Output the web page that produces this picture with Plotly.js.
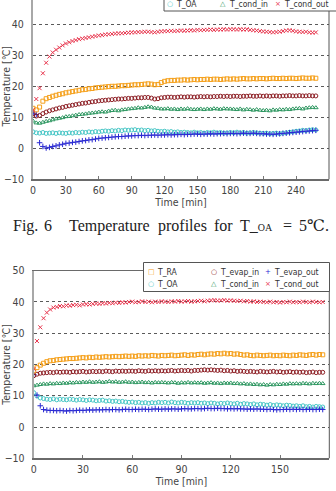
<!DOCTYPE html>
<html>
<head>
<meta charset="utf-8">
<script src="https://cdn.plot.ly/plotly-3.0.1.min.js"></script>
<style>
  html, body { margin: 0; padding: 0; overflow: hidden; background: #fff; }
  #chart { width: 336px; height: 511px; margin-top: -20px; }
</style>
</head>
<body>
<div id="chart"></div>
<script>
// ---- Fig. 6: run with outdoor air at 5 °C (logged every 3 min) ----
const TOP_T = [0,3,6,9,12,15,18,21,24,27,30,33,36,39,42,45,48,51,54,57,60,63,66,69,72,75,78,81,84,87,
  90,93,96,99,102,105,108,111,114,117,120,123,126,129,132,135,138,141,144,147,150,153,156,159,162,165,168,171,174,177,
  180,183,186,189,192,195,198,201,204,207,210,213,216,219,222,225,228,231,234,237,240,243,246,249,252,255,258];

const TOP_RA = [12.9,12.4,13.3,15.2,16.0,16.4,16.8,17.1,17.4,17.6, 17.9,18.1,18.3,18.5,18.7,18.9,19.0,19.2,19.3,19.5,
  19.6,19.7,19.8,19.9,20.0,20.0,20.1,20.2,20.2,20.3, 20.4,20.5,20.5,20.6,20.7,20.8,20.7,20.5,20.6,21.2,
  21.6,21.8,21.9,21.9,22.0,22.0,22.1,22.0,22.1,22.2, 22.1,22.2,22.2,22.3,22.2,22.3,22.3,22.2,22.3,22.4,
  22.3,22.4,22.3,22.4,22.5,22.4,22.4,22.5,22.4,22.5, 22.5,22.4,22.5,22.6,22.5,22.5,22.6,22.5,22.6,22.6,
  22.5,22.6,22.7,22.6,22.6,22.7,22.6];

const TOP_EVAP_IN = [11.1,10.4,10.6,11.2,11.7,12.1,12.4,12.7,13.0,13.2, 13.5,13.7,13.9,14.1,14.3,14.5,14.6,14.8,15.0,15.1,
  15.3,15.4,15.5,15.6,15.7,15.8,15.9,15.9,16.0,16.1, 16.1,16.2,16.3,16.3,16.4,16.4,16.2,15.9,16.0,16.3,
  16.4,16.5,16.5,16.4,16.5,16.6,16.5,16.6,16.6,16.5, 16.6,16.7,16.6,16.7,16.6,16.7,16.7,16.8,16.7,16.8,
  16.7,16.8,16.8,16.7,16.8,16.8,16.9,16.8,16.8,16.9, 16.8,16.9,16.8,16.9,16.9,16.8,16.9,16.9,17.0,16.9,
  16.9,17.0,16.9,16.9,17.0,16.9,16.9];

const TOP_EVAP_OUT = [11.3,10.9,1.8,0.6,0.1,0.3,0.6,0.8,1.1,1.3, 1.6,1.7,1.9,2.0,2.2,2.4,2.5,2.7,2.8,3.0,
  3.2,3.3,3.4,3.5,3.6,3.7,3.8,3.8,3.9,4.0, 4.0,4.1,4.1,4.2,4.1,4.2,4.2,4.3,4.2,4.3,
  4.3,4.4,4.3,4.4,4.4,4.5,4.4,4.5,4.5,4.6, 4.6,4.5,4.6,4.6,4.7,4.6,4.7,4.7,4.8,4.7,
  4.8,4.8,4.7,4.8,4.9,4.8,4.8,4.9,4.8,4.7, 4.7,4.6,4.6,4.5,4.6,4.7,4.8,4.9,5.0,5.1,
  5.2,5.3,5.4,5.5,5.6,5.7,5.8];

const TOP_OA = [5.3,5.0,4.9,5.1,4.8,4.9,5.0,4.8,5.0,4.9, 4.8,5.0,4.9,5.1,5.0,5.2,5.1,5.3,5.2,5.4,
  5.3,5.5,5.6,5.5,5.7,5.6,5.8,5.7,5.9,5.8, 5.9,6.0,5.8,5.9,5.7,5.8,5.6,5.7,5.5,5.4,
  5.5,5.3,5.4,5.2,5.3,5.1,5.2,5.1,5.0,5.2, 5.0,5.1,4.9,5.1,5.0,5.2,5.0,5.1,4.9,5.0,
  5.1,5.0,5.2,5.0,5.1,4.9,5.0,5.1,5.0,4.9, 4.8,4.9,4.7,4.8,4.9,4.7,4.9,5.0,5.2,5.3,
  5.5,5.6,5.8,5.7,5.9,6.0,5.9];

const TOP_COND_IN = [8.8,8.2,8.1,8.4,8.7,8.9,9.2,9.5,9.7,9.9, 10.2,10.3,10.5,10.7,10.9,11.0,11.1,11.3,11.4,11.5,
  11.7,11.8,11.7,12.0,12.2,12.3,12.1,12.4,12.5,12.7, 12.8,12.9,13.1,13.0,13.2,13.4,13.3,13.0,12.9,12.7,
  12.7,12.8,12.6,12.7,12.5,12.7,12.6,12.8,12.6,12.5, 12.6,12.7,12.5,12.7,12.6,12.8,12.7,12.6,12.8,12.7,
  12.7,12.6,12.5,12.7,12.4,12.6,12.5,12.3,12.5,12.3, 12.2,12.3,12.1,12.4,12.3,12.5,12.4,12.6,12.5,12.7,
  12.8,12.9,12.7,13.0,13.1,13.2,13.1];

const TOP_COND_OUT = [12.4,15.9,19.4,24.2,27.6,29.6,30.9,31.8,32.5,33.2, 33.8,34.2,34.6,34.9,35.2,35.4,35.6,35.8,36.0,36.2,
  36.4,36.5,36.7,36.8,36.9,37.0,37.1,37.1,37.2,37.3, 37.4,37.4,37.5,37.5,37.6,37.6,37.5,37.4,37.6,37.7,
  37.8,37.8,37.9,37.8,37.9,38.0,37.9,38.0,38.1,38.0, 38.2,38.1,38.2,38.2,38.3,38.2,38.3,38.3,38.4,38.3,
  38.4,38.4,38.3,38.4,38.3,38.4,38.2,38.1,38.0,37.8, 37.7,37.6,37.5,37.4,37.5,37.6,37.8,38.0,38.1,37.9,
  37.7,37.6,37.5,37.6,37.4,37.3,37.4];

// ---- second run (logged every 2 min) ----
const BOT_T = [0,2,4,6,8,10,12,14,16,18,20,22,24,26,28,30,32,34,36,38,40,42,44,46,48,50,52,54,56,58,
  60,62,64,66,68,70,72,74,76,78,80,82,84,86,88,90,92,94,96,98,100,102,104,106,108,110,112,114,116,118,
  120,122,124,126,128,130,132,134,136,138,140,142,144,146,148,150,152,154,156,158,160,162,164,166,168,170,172,174,176];

const BOT_RA = [18.0,19.0,19.8,20.4,20.9,21.2,21.3,21.5,21.6,21.7, 21.8,21.9,21.9,22.0,22.1,22.2,22.1,22.3,22.2,22.4,
  22.3,22.4,22.5,22.4,22.5,22.6,22.5,22.6,22.7,22.6, 22.7,22.6,22.8,22.7,22.8,22.7,22.9,22.8,22.7,22.9,
  22.8,22.9,23.0,22.8,22.9,23.0,23.1,22.9,23.1,23.0, 23.2,23.3,23.1,23.3,23.4,23.3,23.5,23.4,23.6,23.4,
  23.5,23.3,23.4,23.2,23.0,23.1,22.9,22.8,23.0,22.9, 22.8,22.9,23.0,22.8,22.9,22.8,23.0,22.9,22.8,23.0,
  22.9,23.1,23.0,22.9,23.1,23.2,23.0,23.2,23.1];

const BOT_EVAP_IN = [16.4,16.9,17.2,17.3,17.4,17.5,17.4,17.6,17.5,17.6, 17.6,17.5,17.7,17.6,17.7,17.8,17.6,17.7,17.8,17.7,
  17.8,17.7,17.9,17.8,17.7,17.9,17.8,17.9,17.8,17.9, 17.9,17.8,18.0,17.9,17.8,18.0,17.9,18.0,17.9,18.0,
  17.9,18.0,18.1,17.9,18.0,18.1,18.0,18.1,17.9,18.1, 18.1,18.2,18.3,18.2,18.3,18.2,18.1,18.2,18.0,18.1,
  17.9,18.0,17.8,17.9,17.8,17.7,17.8,17.7,17.6,17.8, 17.7,17.6,17.7,17.8,17.6,17.7,17.5,17.6,17.7,17.5,
  17.6,17.5,17.6,17.4,17.5,17.6,17.4,17.5,17.5];

const BOT_EVAP_OUT = [16.8,10.2,6.8,5.6,5.4,5.3,5.3,5.2,5.3,5.2, 5.1,5.3,5.2,5.3,5.4,5.3,5.4,5.5,5.4,5.5,
  5.5,5.5,5.6,5.5,5.6,5.6,5.5,5.6,5.7,5.6, 5.6,5.7,5.6,5.7,5.7,5.6,5.7,5.8,5.7,5.7,
  5.8,5.7,5.8,5.8,5.7,5.8,5.9,5.8,5.8,5.9, 5.9,5.8,5.9,6.0,5.9,5.9,6.0,5.9,5.9,5.8,
  5.9,5.8,5.9,5.8,5.8,5.7,5.8,5.7,5.8,5.7, 5.7,5.6,5.7,5.6,5.5,5.6,5.6,5.7,5.6,5.7,
  5.6,5.7,5.6,5.6,5.7,5.6,5.6,5.7,5.6];

const BOT_OA = [11.0,9.9,9.3,9.1,8.9,8.8,9.0,8.7,8.9,8.8, 8.7,8.9,8.8,8.6,8.8,8.7,8.5,8.7,8.6,8.4,
  8.5,8.6,8.3,8.4,8.2,8.3,8.1,8.2,8.0,7.9, 8.0,7.8,7.9,7.7,7.8,7.6,7.8,7.7,7.9,7.8,
  7.9,7.7,8.0,7.8,7.7,7.9,7.8,7.6,7.8,7.7, 7.8,7.6,7.7,7.5,7.7,7.6,7.4,7.6,7.5,7.7,
  7.5,7.4,7.6,7.3,7.5,7.4,7.2,7.4,7.1,7.3, 7.2,7.0,7.2,6.9,7.1,7.0,6.8,7.0,6.9,6.7,
  6.8,6.6,6.8,6.5,6.6,6.4,6.6,6.5,6.4];

const BOT_COND_IN = [13.2,13.4,13.6,13.8,13.7,13.9,13.8,14.0,13.9,14.1, 14.0,14.2,14.1,14.3,14.2,14.4,14.3,14.5,14.3,14.4,
  14.5,14.3,14.4,14.6,14.4,14.5,14.3,14.4,14.5,14.3, 14.4,14.2,14.3,14.4,14.2,14.3,14.1,14.3,14.2,14.3,
  14.2,14.1,14.3,14.2,14.0,14.2,14.1,14.3,14.1,14.2, 14.1,14.2,14.0,14.1,14.2,14.0,14.1,13.9,14.1,14.0,
  14.1,13.9,14.0,13.8,13.9,13.7,13.8,13.6,13.7,13.5, 13.6,13.4,13.6,13.5,13.7,13.6,13.8,13.7,13.9,13.8,
  13.9,13.8,14.0,13.9,13.8,14.0,13.9,14.0,13.9];

const BOT_COND_OUT = [18.6,27.5,31.9,34.8,36.6,37.6,38.2,38.4,38.7,38.6, 38.9,38.8,39.0,39.1,38.9,39.2,39.3,39.2,39.4,39.5,
  39.4,39.6,39.5,39.7,39.6,39.8,39.7,39.9,39.8,40.0, 40.1,39.9,40.0,40.2,40.0,40.1,39.9,40.1,40.0,40.2,
  40.1,40.0,40.2,40.1,40.3,40.1,40.2,40.3,40.1,40.2, 40.3,40.4,40.2,40.4,40.5,40.6,40.4,40.5,40.6,40.4,
  40.5,40.4,40.3,40.4,40.2,40.3,40.1,40.2,40.0,40.1, 40.0,39.9,40.1,39.9,40.0,39.8,40.0,39.9,40.1,39.9,
  40.0,39.9,40.1,40.0,39.9,40.1,40.0,39.9,40.0];

const SERIES_NAMES = ['T_RA', 'T_evap_in', 'T_evap_out', 'T_OA', 'T_cond_in', 'T_cond_out'];
const X_TICKS = [0, 30, 60, 90, 120, 150, 180, 210, 240, 270];
const Y_TICKS = [-10, 0, 10, 20, 30, 40, 50];
const CAPTION_WORDS = ['Fig.', '6', 'Temperature', 'profiles', 'for', 'T_<span style="font-size:10px">OA</span>', '=', '5℃.'];

// ---- styling ----
const STYLE = {
  'T_RA':       { color: '#f5a01c', symbol: 'square-open',      glyph: '□' },
  'T_evap_in':  { color: '#8c1c22', symbol: 'circle-open',      glyph: '○' },
  'T_evap_out': { color: '#2a2ad2', symbol: 'cross-thin-open',  glyph: '+' },
  'T_OA':       { color: '#46c6c6', symbol: 'circle-open',      glyph: '○' },
  'T_cond_in':  { color: '#2f9862', symbol: 'triangle-up-open', glyph: '△' },
  'T_cond_out': { color: '#e8364e', symbol: 'x-thin-open',      glyph: '×' }
};
const DRAW_ORDER = ['T_OA', 'T_evap_out', 'T_cond_in', 'T_evap_in', 'T_RA', 'T_cond_out'];
const CAPTION_X = [11, 42, 67, 156, 212, 238, 281, 297];   // left edge of each caption word, px

const W = 336, H = 511, SHIFT = 20;           // figure is shifted up by SHIFT px
const px = x => x / W;
const py = y => 1 - (y + SHIFT) / H;           // page y (px) -> paper y

const FONT = 'DejaVu Sans Condensed, DejaVu Sans, sans-serif';
const INK = '#444';

const topData = { 'T_RA': TOP_RA, 'T_evap_in': TOP_EVAP_IN, 'T_evap_out': TOP_EVAP_OUT,
                  'T_OA': TOP_OA, 'T_cond_in': TOP_COND_IN, 'T_cond_out': TOP_COND_OUT };
const botData = { 'T_RA': BOT_RA, 'T_evap_in': BOT_EVAP_IN, 'T_evap_out': BOT_EVAP_OUT,
                  'T_OA': BOT_OA, 'T_cond_in': BOT_COND_IN, 'T_cond_out': BOT_COND_OUT };

function makeTrace(name, t, y, xa, ya) {
  const s = STYLE[name];
  return {
    type: 'scatter', mode: 'markers', name: name, x: t, y: y, xaxis: xa, yaxis: ya,
    showlegend: false, hoverinfo: 'x+y+name',
    marker: { symbol: s.symbol, size: 4, color: s.color, line: { color: s.color, width: 1 } }
  };
}

const traces = [];
DRAW_ORDER.forEach(n => traces.push(makeTrace(n, TOP_T, topData[n], 'x', 'y')));
DRAW_ORDER.forEach(n => traces.push(makeTrace(n, BOT_T, botData[n], 'x2', 'y2')));

// plot-area boxes in page pixels
const TOP_BOX = { l: 33, r: 329, t: -6.7, b: 179.3 };
const BOT_BOX = { l: 33.7, r: 329.3, t: 270.7, b: 458.3 };

function xAxis(box, maxT, anchor) {
  return {
    domain: [px(box.l), px(box.r)], anchor: anchor, range: [-0.001, maxT + 0.001],
    tickvals: X_TICKS.filter(v => v <= maxT), ticks: 'inside', ticklen: 3, tickwidth: 1, tickcolor: '#777',
    showline: true, mirror: true, linecolor: '#6a6a6a', linewidth: 1.2,
    showgrid: false, zeroline: false, ticklabelstandoff: 1,
    tickfont: { family: FONT, size: 10.5, color: INK },
    title: { text: 'Time [min]', font: { family: FONT, size: 10.5, color: INK }, standoff: 1 }
  };
}
function yAxis(box, anchor, ticks) {
  return {
    domain: [py(box.b), py(box.t)], anchor: anchor, range: [-10, 50],
    tickvals: ticks, ticks: '', showline: true, linecolor: '#a8a8a8', linewidth: 2,
    showgrid: true, gridcolor: '#5a5a5a', griddash: 'dot', gridwidth: 1, zeroline: false,
    ticklabelstandoff: 5,
    tickfont: { family: FONT, size: 10.5, color: INK },
    title: { text: 'Temperature [℃]', font: { family: FONT, size: 10.5, color: INK }, standoff: 3 }
  };
}

// legend boxes built from shapes + annotations; `names` lists the entries drawn, row by row
function legend(names, boxL, boxR, boxT, boxB, rowY, colMarkX, shapes, annos) {
  shapes.push({ type: 'rect', xref: 'paper', yref: 'paper', layer: 'above',
    x0: px(boxL), x1: px(boxR), y0: py(boxB), y1: py(boxT),
    line: { color: '#555', width: 1 }, fillcolor: '#fff' });
  names.forEach((n, i) => {
    const r = Math.floor(i / 3), c = i % 3, s = STYLE[n];
    annos.push({ xref: 'paper', yref: 'paper', x: px(colMarkX[c]), y: py(rowY[r]),
      xanchor: 'center', yanchor: 'middle', showarrow: false,
      text: s.glyph, font: { family: 'DejaVu Sans', size: 7, color: s.color } });
    annos.push({ xref: 'paper', yref: 'paper', x: px(colMarkX[c] + 4), y: py(rowY[r]),
      xanchor: 'left', yanchor: 'middle', showarrow: false,
      text: n, font: { family: FONT, size: 8.5, color: '#333' } });
  });
}

const shapes = [
  { type: 'line', xref: 'x domain', yref: 'y domain', x0: 1, x1: 1, y0: 0, y1: 1, line: { color: '#555', width: 1 } },
  { type: 'line', xref: 'x2 domain', yref: 'y2 domain', x0: 1, x1: 1, y0: 0, y1: 1, line: { color: '#555', width: 1 } }
];
const annotations = [];
// upper legend: only its lower row lies inside the page
legend(SERIES_NAMES.slice(3), 164, 345, -19, 11, [4.5], [169.5, 223, 278], shapes, annotations);
legend(SERIES_NAMES, 143.5, 329.5, 262.5, 291.5, [272.3, 284.3], [151, 213.5, 268], shapes, annotations);

CAPTION_WORDS.forEach((w, i) => annotations.push({
  xref: 'paper', yref: 'paper', x: px(CAPTION_X[i]), y: py(225.5), xanchor: 'left', yanchor: 'middle',
  showarrow: false, text: w,
  font: { family: 'Liberation Serif, DejaVu Serif, serif', size: 16, color: '#222' }
}));

const layout = {
  width: W, height: H, margin: { l: 0, r: 0, t: 0, b: 0 },
  paper_bgcolor: '#fff', plot_bgcolor: '#fff', showlegend: false,
  xaxis: xAxis(TOP_BOX, 270, 'y'), yaxis: yAxis(TOP_BOX, 'x', Y_TICKS.filter(v => v < 50)),
  xaxis2: xAxis(BOT_BOX, 180, 'y2'), yaxis2: yAxis(BOT_BOX, 'x2', Y_TICKS),
  shapes: shapes, annotations: annotations
};

Plotly.newPlot('chart', traces, layout, { staticPlot: true, displayModeBar: false });
</script>
</body>
</html>
